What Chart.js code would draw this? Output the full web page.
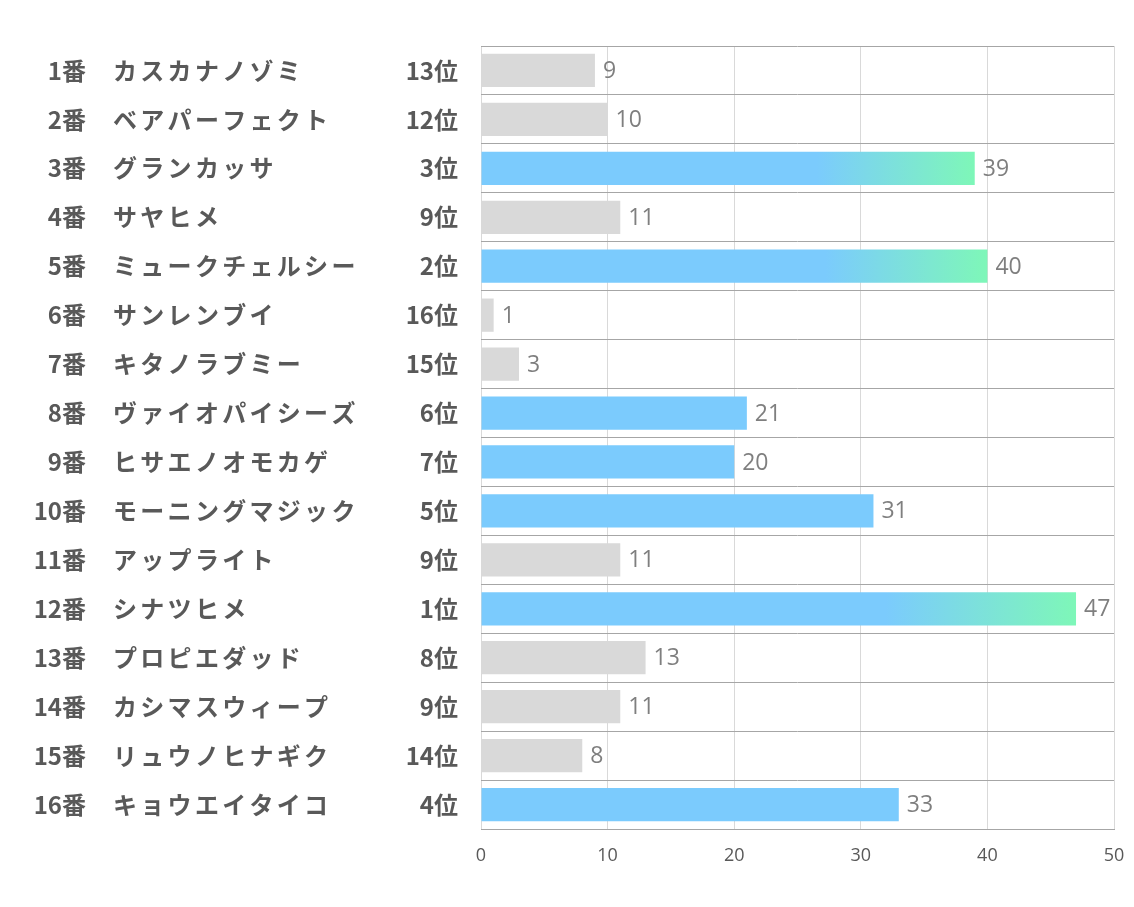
<!DOCTYPE html>
<html>
<head>
<meta charset="utf-8">
<script src="https://cdn.jsdelivr.net/npm/chart.js@4"></script>
<style>
html,body{margin:0;padding:0;background:#fff;}
#wrap{width:1134px;height:907px;position:relative;}
</style>
</head>
<body>
<div id="wrap"><canvas id="c" width="1134" height="907"></canvas></div>
<script>
const horseNumbers = ["1番","2番","3番","4番","5番","6番","7番","8番","9番","10番","11番","12番","13番","14番","15番","16番"];
const horseNames = ["カスカナノゾミ","ベアパーフェクト","グランカッサ","サヤヒメ","ミュークチェルシー","サンレンブイ","キタノラブミー","ヴァイオパイシーズ","ヒサエノオモカゲ","モーニングマジック","アップライト","シナツヒメ","プロピエダッド","カシマスウィープ","リュウノヒナギク","キョウエイタイコ"];
const ranks = ["13位","12位","3位","9位","2位","16位","15位","6位","7位","5位","9位","1位","8位","9位","14位","4位"];
const values = [9,10,39,11,40,1,3,21,20,31,11,47,13,11,8,33];
const xTicks = [0,10,20,30,40,50];

const JP = '"Noto Sans CJK JP", "Noto Sans", sans-serif';
const NUM = '"Open Sans", "Noto Sans", sans-serif';
const BLUE = '#7bcbfd';
const GREEN = '#7ef7b8';
const GRAY = '#d9d9d9';

function rankNum(r){ return parseInt(r, 10); }

function barColor(ctx){
  const i = ctx.dataIndex;
  const r = rankNum(ranks[i]);
  if (r > 7) return GRAY;
  if (r > 3) return BLUE;
  const chart = ctx.chart;
  const xs = chart.scales.x;
  if (!xs || !chart.chartArea) return BLUE;
  const x0 = xs.getPixelForValue(0);
  const x1 = xs.getPixelForValue(values[i]);
  const g = chart.ctx.createLinearGradient(x0, 0, x1, 0);
  g.addColorStop(0, BLUE);
  g.addColorStop(0.68, BLUE);
  g.addColorStop(1, GREEN);
  return g;
}

const labelPlugin = {
  id: 'labels',
  afterDraw(chart){
    const ctx = chart.ctx;
    const ys = chart.scales.y;
    const xs = chart.scales.x;
    ctx.save();
    ctx.textBaseline = 'middle';
    for (let i = 0; i < values.length; i++){
      const y = ys.getPixelForValue(i);
      ctx.fillStyle = '#595959';
      ctx.font = 'bold 24px ' + JP;
      ctx.letterSpacing = '0px';
      ctx.textAlign = 'right';
      ctx.fillText(horseNumbers[i], 86, y);
      ctx.fillText(ranks[i], 458, y);
      ctx.textAlign = 'left';
      ctx.letterSpacing = '3.3px';
      ctx.fillText(horseNames[i], 113, y);
      ctx.letterSpacing = '0px';
      ctx.font = '23px ' + NUM;
      ctx.fillStyle = '#7f7f7f';
      ctx.textAlign = 'left';
      ctx.fillText(String(values[i]), xs.getPixelForValue(values[i]) + 8, y + 1);
    }
    ctx.restore();
  }
};

new Chart(document.getElementById('c'), {
  type: 'bar',
  data: {
    labels: horseNames,
    datasets: [{
      data: values,
      backgroundColor: barColor,
      borderWidth: 0,
      categoryPercentage: 1,
      barPercentage: 0.68
    }]
  },
  options: {
    indexAxis: 'y',
    responsive: false,
    animation: false,
    devicePixelRatio: 1,
    layout: { padding: { top: 46, right: 20, left: 0, bottom: 0 } },
    plugins: { legend: { display: false }, tooltip: { enabled: false } },
    scales: {
      x: {
        min: 0, max: 50,
        afterBuildTicks(s){ s.ticks = xTicks.map(v => ({value: v})); },
        afterFit(s){ s.height = 78; s.paddingLeft = 0; s.paddingRight = 0; },
        grid: { color: '#d9d9d9', drawTicks: false },
        border: { display: true, color: '#a6a6a6' },
        ticks: { color: '#595959', font: { family: NUM, size: 18 }, padding: 16 }
      },
      y: {
        afterFit(s){ s.width = 481; },
        ticks: { display: false },
        grid: { color: '#a6a6a6', drawTicks: false, offset: true },
        border: { display: false }
      }
    }
  },
  plugins: [labelPlugin]
});
</script>
</body>
</html>
